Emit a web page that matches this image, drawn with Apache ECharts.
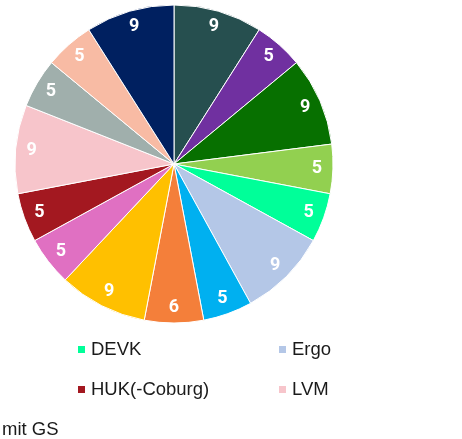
<!DOCTYPE html>
<html>
<head>
<meta charset="utf-8">
<script src="https://cdn.jsdelivr.net/npm/echarts@6/dist/echarts.min.js"></script>
<style>
html, body { margin: 0; padding: 0; background: #fff; }
#chart { width: 462px; height: 439px; }
</style>
</head>
<body>
<div id="chart"></div>
<script>
// slices clockwise from 12 o'clock
var names = ['Allianz', 'AXA', 'Generali', 'Gothaer', 'DEVK', 'Ergo', 'HDI', 'Provinzial',
    'R+V', 'Signal Iduna', 'HUK(-Coburg)', 'LVM', 'VHV', 'Zurich', 'Württembergische'];
var values = [9, 5, 9, 5, 5, 9, 5, 6, 9, 5, 5, 9, 5, 5, 9];
var colors = ['#264f4f', '#7030a0', '#077000', '#92d050', '#00ff99', '#b4c7e7', '#00b0f0', '#f47f3a',
    '#ffc000', '#e070c2', '#a31820', '#f7c5cb', '#a0afac', '#f8bba4', '#002060'];
var legendNames = ['DEVK', 'Ergo', 'HUK(-Coburg)', 'LVM'];

var chart = echarts.init(document.getElementById('chart'));

var pieData = names.map(function (n, i) {
    return { name: n, value: values[i], itemStyle: { color: colors[i] } };
});
var labelData = names.map(function (n, i) {
    return { name: n, value: values[i] };
});

var legendPos = [[76, 340], [277, 340], [76, 380], [277, 380]];
var legends = legendNames.map(function (n, i) {
    return {
        data: [n],
        left: legendPos[i][0],
        top: legendPos[i][1],
        padding: 0,
        icon: 'rect',
        itemWidth: 9,
        itemHeight: 9,
        selectedMode: false,
        textStyle: { fontFamily: 'Liberation Sans, Arial, sans-serif', fontSize: 18.5, color: '#1a1a1a' }
    };
});

chart.setOption({
    animation: false,
    legend: legends,
    graphic: [{
        type: 'text',
        left: 2,
        top: 420,
        style: { text: 'mit GS', font: '18.5px "Liberation Sans", Arial, sans-serif', fill: '#1a1a1a' }
    }],
    series: [{
        type: 'pie',
        center: [174, 164],
        radius: [0, 159],
        startAngle: 90,
        clockwise: true,
        silent: true,
        label: { show: false },
        labelLine: { show: false },
        itemStyle: { borderColor: '#fff', borderWidth: 1 },
        data: pieData
    }, {
        // transparent ring that only carries the value labels
        type: 'pie',
        center: [174, 164],
        radius: [121, 159],
        startAngle: 90,
        clockwise: true,
        silent: true,
        legendHoverLink: false,
        itemStyle: { color: 'rgba(0,0,0,0)', borderWidth: 0 },
        label: {
            show: true,
            position: 'inside',
            formatter: '{c}',
            color: '#fff',
            fontFamily: 'Roboto, sans-serif',
            fontWeight: 'bold',
            fontSize: 18
        },
        labelLine: { show: false },
        data: labelData
    }]
});
</script>
</body>
</html>
